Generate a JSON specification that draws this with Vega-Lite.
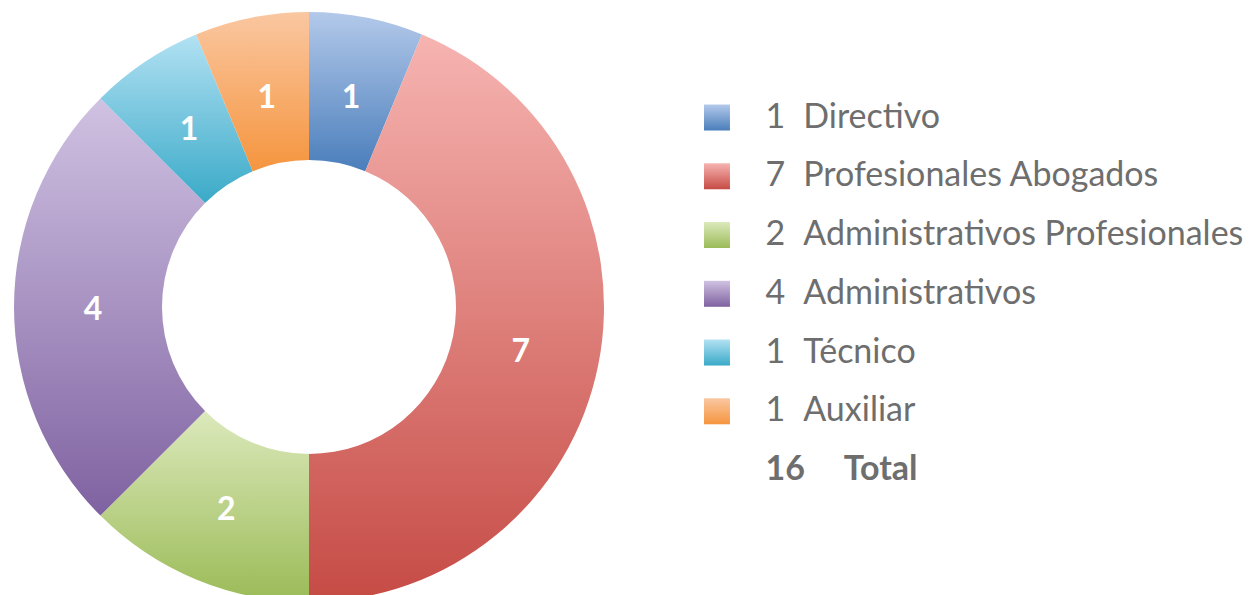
{
  "$schema": "https://vega.github.io/schema/vega-lite/v6.json",
  "padding": 0,
  "spacing": 0,
  "background": "white",
  "config": {"view": {"stroke": null}, "text": {"font": "Lato"}},
  "datasets": {
    "puestos": [
      {"cat": "Directivo", "n": 1, "order": 0},
      {"cat": "Profesionales Abogados", "n": 7, "order": 1},
      {"cat": "Administrativos Profesionales", "n": 2, "order": 2},
      {"cat": "Administrativos", "n": 4, "order": 3},
      {"cat": "Técnico", "n": 1, "order": 4},
      {"cat": "Auxiliar", "n": 1, "order": 5}
    ]
  },
  "hconcat": [
    {
      "width": 618,
      "height": 614,
      "data": {"name": "puestos"},
      "transform": [
        {"stack": "n", "groupby": [], "sort": [{"field": "order", "order": "ascending"}], "as": ["t0", "t1"]}
      ],
      "layer": [
        {
          "transform": [{"filter": "datum.order == 0"}],
          "mark": {"type": "arc", "radius": 295, "radius2": 147, "color": {"gradient": "linear", "x1": 0, "y1": 0, "x2": 0, "y2": 1, "stops": [{"offset": 0, "color": "#B3C9EA"}, {"offset": 1, "color": "#4A7EBB"}]}},
          "encoding": {"theta": {"field": "t0", "type": "quantitative", "scale": {"nice": false}}, "theta2": {"field": "t1"}}
        },
        {
          "transform": [{"filter": "datum.order == 1"}],
          "mark": {"type": "arc", "radius": 295, "radius2": 147, "color": {"gradient": "linear", "x1": 0, "y1": 0, "x2": 0, "y2": 1, "stops": [{"offset": 0, "color": "#F6B4B1"}, {"offset": 1, "color": "#C64B45"}]}},
          "encoding": {"theta": {"field": "t0", "type": "quantitative"}, "theta2": {"field": "t1"}}
        },
        {
          "transform": [{"filter": "datum.order == 2"}],
          "mark": {"type": "arc", "radius": 295, "radius2": 147, "color": {"gradient": "linear", "x1": 0, "y1": 0, "x2": 0, "y2": 1, "stops": [{"offset": 0, "color": "#DCE9BC"}, {"offset": 1, "color": "#9BBB57"}]}},
          "encoding": {"theta": {"field": "t0", "type": "quantitative"}, "theta2": {"field": "t1"}}
        },
        {
          "transform": [{"filter": "datum.order == 3"}],
          "mark": {"type": "arc", "radius": 295, "radius2": 147, "color": {"gradient": "linear", "x1": 0, "y1": 0, "x2": 0, "y2": 1, "stops": [{"offset": 0, "color": "#D0C2E2"}, {"offset": 1, "color": "#7F62A1"}]}},
          "encoding": {"theta": {"field": "t0", "type": "quantitative"}, "theta2": {"field": "t1"}}
        },
        {
          "transform": [{"filter": "datum.order == 4"}],
          "mark": {"type": "arc", "radius": 295, "radius2": 147, "color": {"gradient": "linear", "x1": 0, "y1": 0, "x2": 0, "y2": 1, "stops": [{"offset": 0, "color": "#B2E1F3"}, {"offset": 1, "color": "#3AAAC8"}]}},
          "encoding": {"theta": {"field": "t0", "type": "quantitative"}, "theta2": {"field": "t1"}}
        },
        {
          "transform": [{"filter": "datum.order == 5"}],
          "mark": {"type": "arc", "radius": 295, "radius2": 147, "color": {"gradient": "linear", "x1": 0, "y1": 0, "x2": 0, "y2": 1, "stops": [{"offset": 0, "color": "#FAC7A1"}, {"offset": 1, "color": "#F5953E"}]}},
          "encoding": {"theta": {"field": "t0", "type": "quantitative"}, "theta2": {"field": "t1"}}
        },
        {
          "mark": {"type": "text", "radius": 216, "dy": 3, "color": "white", "fontSize": 32, "fontWeight": "bold", "font": "Lato", "baseline": "middle", "align": "center"},
          "encoding": {
            "theta": {"field": "n", "type": "quantitative", "stack": true},
            "order": {"field": "order", "type": "quantitative"},
            "text": {"field": "n", "type": "quantitative"}
          }
        }
      ]
    },
    {
      "width": 641,
      "height": 614,
      "data": {"name": "puestos"},
      "layer": [
        {
          "transform": [{"filter": "datum.order == 0"}],
          "mark": {"type": "square", "size": 676, "opacity": 1, "color": {"gradient": "linear", "x1": 0, "y1": 0, "x2": 0, "y2": 1, "stops": [{"offset": 0, "color": "#B3C9EA"}, {"offset": 1, "color": "#4A7EBB"}]}},
          "encoding": {
            "x": {"datum": 15.44, "type": "quantitative", "scale": {"domain": [0, 100], "nice": false, "zero": false}, "axis": null},
            "y": {"field": "order", "type": "quantitative", "scale": {"domain": [-2, 8.45], "reverse": true, "nice": false, "zero": false}, "axis": null}
          }
        },
        {
          "transform": [{"filter": "datum.order == 1"}],
          "mark": {"type": "square", "size": 676, "opacity": 1, "color": {"gradient": "linear", "x1": 0, "y1": 0, "x2": 0, "y2": 1, "stops": [{"offset": 0, "color": "#F6B4B1"}, {"offset": 1, "color": "#C64B45"}]}},
          "encoding": {"x": {"datum": 15.44, "type": "quantitative"}, "y": {"field": "order", "type": "quantitative"}}
        },
        {
          "transform": [{"filter": "datum.order == 2"}],
          "mark": {"type": "square", "size": 676, "opacity": 1, "color": {"gradient": "linear", "x1": 0, "y1": 0, "x2": 0, "y2": 1, "stops": [{"offset": 0, "color": "#DCE9BC"}, {"offset": 1, "color": "#9BBB57"}]}},
          "encoding": {"x": {"datum": 15.44, "type": "quantitative"}, "y": {"field": "order", "type": "quantitative"}}
        },
        {
          "transform": [{"filter": "datum.order == 3"}],
          "mark": {"type": "square", "size": 676, "opacity": 1, "color": {"gradient": "linear", "x1": 0, "y1": 0, "x2": 0, "y2": 1, "stops": [{"offset": 0, "color": "#D0C2E2"}, {"offset": 1, "color": "#7F62A1"}]}},
          "encoding": {"x": {"datum": 15.44, "type": "quantitative"}, "y": {"field": "order", "type": "quantitative"}}
        },
        {
          "transform": [{"filter": "datum.order == 4"}],
          "mark": {"type": "square", "size": 676, "opacity": 1, "color": {"gradient": "linear", "x1": 0, "y1": 0, "x2": 0, "y2": 1, "stops": [{"offset": 0, "color": "#B2E1F3"}, {"offset": 1, "color": "#3AAAC8"}]}},
          "encoding": {"x": {"datum": 15.44, "type": "quantitative"}, "y": {"field": "order", "type": "quantitative"}}
        },
        {
          "transform": [{"filter": "datum.order == 5"}],
          "mark": {"type": "square", "size": 676, "opacity": 1, "color": {"gradient": "linear", "x1": 0, "y1": 0, "x2": 0, "y2": 1, "stops": [{"offset": 0, "color": "#FAC7A1"}, {"offset": 1, "color": "#F5953E"}]}},
          "encoding": {"x": {"datum": 15.44, "type": "quantitative"}, "y": {"field": "order", "type": "quantitative"}}
        },
        {
          "mark": {"type": "text", "align": "left", "baseline": "middle", "fontSize": 34, "font": "Lato", "color": "#6E6E6E"},
          "encoding": {"x": {"datum": 23.0, "type": "quantitative"}, "y": {"field": "order", "type": "quantitative"}, "text": {"field": "n", "type": "quantitative"}}
        },
        {
          "mark": {"type": "text", "align": "left", "baseline": "middle", "fontSize": 34, "font": "Lato", "color": "#6E6E6E"},
          "encoding": {"x": {"datum": 28.9, "type": "quantitative"}, "y": {"field": "order", "type": "quantitative"}, "text": {"field": "cat", "type": "nominal"}}
        },
        {
          "transform": [{"aggregate": [{"op": "sum", "field": "n", "as": "total"}]}],
          "mark": {"type": "text", "align": "left", "baseline": "middle", "fontSize": 34, "font": "Lato", "fontWeight": "bold", "color": "#6E6E6E"},
          "encoding": {"x": {"datum": 23.0, "type": "quantitative"}, "y": {"datum": 6, "type": "quantitative"}, "text": {"field": "total", "type": "quantitative"}}
        },
        {
          "transform": [{"aggregate": [{"op": "sum", "field": "n", "as": "total"}]}],
          "mark": {"type": "text", "align": "left", "baseline": "middle", "fontSize": 34, "font": "Lato", "fontWeight": "bold", "color": "#6E6E6E"},
          "encoding": {"x": {"datum": 35.2, "type": "quantitative"}, "y": {"datum": 6, "type": "quantitative"}, "text": {"value": "Total"}}
        }
      ]
    }
  ]
}
